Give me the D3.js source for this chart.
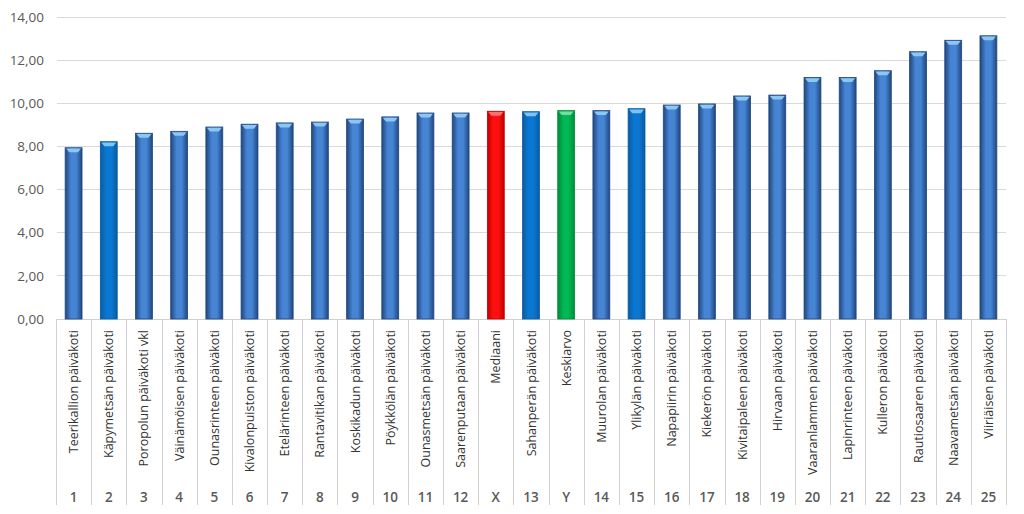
<!DOCTYPE html>
<html><head><meta charset="utf-8">
<script src="https://cdn.jsdelivr.net/npm/d3@7"></script>
<style>body{margin:0;background:#fff}svg{display:block}</style>
</head><body>
<svg id="c" width="1024" height="514"></svg>
<script>
const names = ["Teerikallion päiväkoti","Käpymetsän päiväkoti","Poropolun päiväkoti vkl","Väinämöisen päiväkoti","Ounasrinteen päiväkoti","Kivalonpuiston päiväkoti","Etelärinteen päiväkoti","Rantavitikan päiväkoti","Koskikadun päiväkoti","Pöykkölän päiväkoti","Ounasmetsän päiväkoti","Saarenputaan päiväkoti","Mediaani","Sahanperän päiväkoti","Keskiarvo","Muurolan päiväkoti","Ylikylän päiväkoti","Napapiirin päiväkoti","Kiekerön päiväkoti","Kivitaipaleen päiväkoti","Hirvaan päiväkoti","Vaaranlammen päiväkoti","Lapinrinteen päiväkoti","Kulleron päiväkoti","Rautiosaaren päiväkoti","Naavametsän päiväkoti","Viiriäisen päiväkoti"];
const codes = ["1","2","3","4","5","6","7","8","9","10","11","12","X","13","Y","14","15","16","17","18","19","20","21","22","23","24","25"];
const values = [7.94,8.22,8.61,8.70,8.90,9.03,9.09,9.13,9.27,9.37,9.55,9.55,9.63,9.61,9.66,9.66,9.75,9.92,9.97,10.34,10.38,11.20,11.20,11.51,12.39,12.92,13.13];
const yTicks = [0,2,4,6,8,10,12,14];
const brightCodes = ["2","13","15"];

const svg = d3.select("#c");
const font = "'Open Sans', 'Liberation Sans', sans-serif";
const y = d3.scaleLinear().domain([0,14]).range([319,17]);
const x = d3.scaleBand().domain(codes).range([56,1006]).padding(0);

const styles = {
  normal: {edge:"#20477e", mid:"#4684d4", cap:"#8cc6f2"},
  bright: {edge:"#0a5aa0", mid:"#0a78d2", cap:"#7cc4f4"},
  median: {edge:"#c00000", mid:"#ff1010", cap:"#ff7070"},
  mean:   {edge:"#008a3a", mid:"#00b854", cap:"#70e0a0"}
};
const kind = c => c === "X" ? "median" : c === "Y" ? "mean" : brightCodes.includes(c) ? "bright" : "normal";

const defs = svg.append("defs");
Object.entries(styles).forEach(([k,s]) => {
  const g = defs.append("linearGradient").attr("id","g_"+k).attr("x1","0").attr("x2","1").attr("y1","0").attr("y2","0");
  g.append("stop").attr("offset","0%").attr("stop-color",s.edge);
  g.append("stop").attr("offset","35%").attr("stop-color",s.mid);
  g.append("stop").attr("offset","65%").attr("stop-color",s.mid);
  g.append("stop").attr("offset","100%").attr("stop-color",s.edge);
});

// gridlines
svg.append("g").selectAll("line").data(yTicks.filter(t=>t>0)).join("line")
  .attr("x1",57).attr("x2",1006).attr("y1",d=>y(d)).attr("y2",d=>y(d))
  .attr("stroke","#d9d9d9").attr("stroke-width",1).attr("shape-rendering","crispEdges");

// y axis labels
svg.append("g").selectAll("text").data(yTicks).join("text")
  .attr("x",44).attr("y",d=>y(d)).attr("dy","0.35em").attr("text-anchor","end")
  .attr("font-family",font).attr("font-size",13.5).attr("fill","#595959")
  .text(d=>d3.format(".2f")(d).replace(".",","));

// category axis frame
const axisBottom = 505;
svg.append("line").attr("x1",56).attr("x2",1006).attr("y1",319.5).attr("y2",319.5).attr("stroke","#d0d0d0");
const bounds = codes.map(c=>x(c)).concat([x.range()[1]]);
svg.append("g").selectAll("line").data(bounds).join("line")
  .attr("x1",d=>Math.round(d)+0.5).attr("x2",d=>Math.round(d)+0.5).attr("y1",319).attr("y2",axisBottom)
  .attr("stroke","#d0d0d0");

// bars
const bw = x.bandwidth()*0.48;
const bars = svg.append("g").selectAll("g").data(codes).join("g");
bars.append("rect")
  .attr("x",(c)=>x(c)+x.bandwidth()/2-bw/2).attr("width",bw)
  .attr("y",(c,i)=>y(values[i])).attr("height",(c,i)=>y(0)-y(values[i]))
  .attr("fill",c=>`url(#g_${kind(c)})`)
  .attr("stroke",c=>styles[kind(c)].edge).attr("stroke-width",0.8);
bars.append("path")
  .attr("d",(c,i)=>{
    const x0 = x(c)+x.bandwidth()/2-bw/2, x1 = x0+bw, t = y(values[i]);
    return `M${x0+1},${t+0.8}L${x1-1},${t+0.8}L${x1-4},${t+4.5}L${x0+4},${t+4.5}Z`;
  })
  .attr("fill",c=>styles[kind(c)].cap);

// rotated category names
svg.append("g").selectAll("text").data(codes).join("text")
  .attr("transform",(c)=>`translate(${x(c)+x.bandwidth()/2+4.5},330) rotate(-90)`)
  .attr("text-anchor","end")
  .attr("font-family",font).attr("font-size",12.5).attr("fill","#333333")
  .text((c,i)=>names[i]);

// code row
svg.append("g").selectAll("text").data(codes).join("text")
  .attr("x",c=>x(c)+x.bandwidth()/2).attr("y",502).attr("text-anchor","middle")
  .attr("font-family",font).attr("font-size",13.5).attr("font-weight",600).attr("fill","#595959")
  .text(c=>c);
</script>
</body></html>
